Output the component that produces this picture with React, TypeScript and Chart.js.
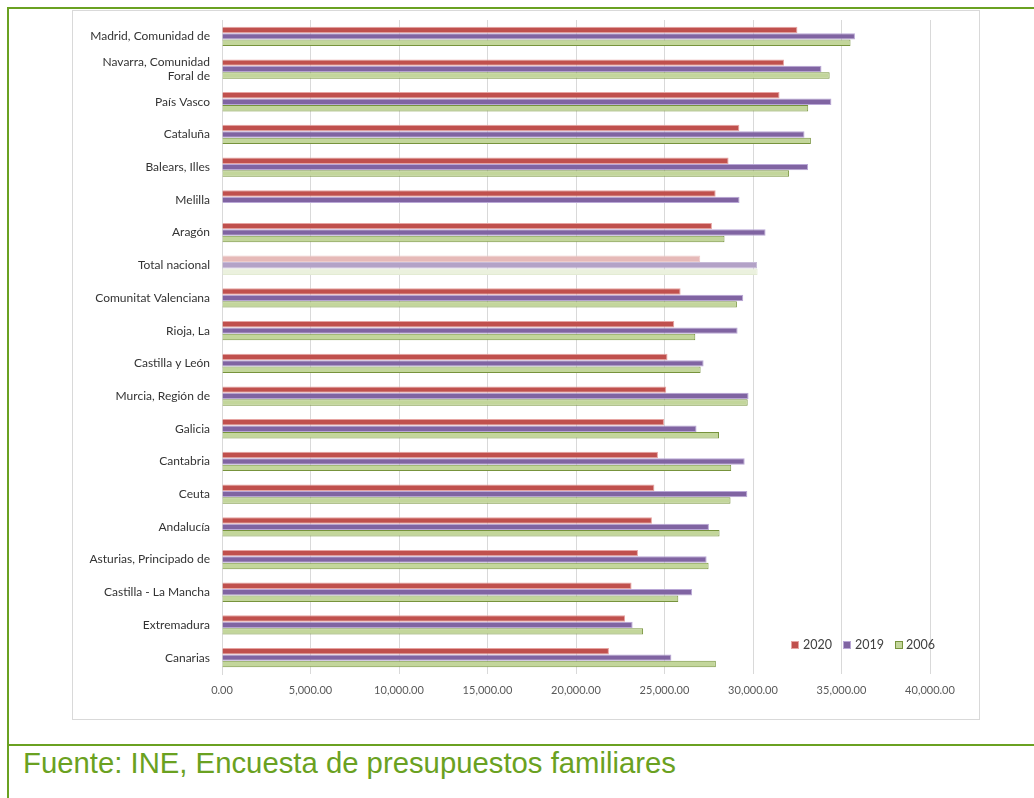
import React, { useEffect, useRef } from "react";
import { Chart, registerables } from "chart.js";

Chart.register(...registerables);

const categories: string[] = [
  "Madrid, Comunidad de",
  "Navarra, Comunidad Foral de",
  "País Vasco",
  "Cataluña",
  "Balears, Illes",
  "Melilla",
  "Aragón",
  "Total nacional",
  "Comunitat Valenciana",
  "Rioja, La",
  "Castilla y León",
  "Murcia, Región de",
  "Galicia",
  "Cantabria",
  "Ceuta",
  "Andalucía",
  "Asturias, Principado de",
  "Castilla - La Mancha",
  "Extremadura",
  "Canarias",
];

const values2020: (number | null)[] = [
  32510, 31750, 31500, 29230, 28620, 27890, 27680, 27020, 25910, 25550,
  25170, 25100, 24970, 24630, 24430, 24290, 23500, 23140, 22770, 21860,
];
const values2019: (number | null)[] = [
  35760, 33870, 34430, 32910, 33110, 29240, 30710, 30230, 29450, 29130,
  27210, 29750, 26810, 29530, 29680, 27510, 27380, 26560, 23200, 25390,
];
const values2006: (number | null)[] = [
  35510, 34330, 33120, 33270, 32040, null, 28390, 30260, 29090, 26740,
  27040, 29700, 28080, 28770, 28730, 28110, 27490, 25780, 23790, 27900,
];

const seriesNames = ["2020", "2019", "2006"];
const xTicksMax = 40000;
const xTicksStep = 5000;

const GREEN = "#6AA121";
const FONT = "Lato, 'Open Sans', sans-serif";

const labelFor = (c: string) =>
  c === "Navarra, Comunidad Foral de" ? ["Navarra, Comunidad", "Foral de"] : c;

const perIndex = (normal: string, highlight: string) =>
  categories.map((c) => (c === "Total nacional" ? highlight : normal));

export default function App() {
  const ref = useRef<HTMLCanvasElement | null>(null);

  useEffect(() => {
    if (!ref.current) return;
    const chart = new Chart(ref.current, {
      type: "bar",
      data: {
        labels: categories.map(labelFor),
        datasets: [
          {
            label: seriesNames[0],
            data: values2020,
            backgroundColor: perIndex("#C0504D", "#E6B9B8"),
            borderColor: perIndex("#E6A4A2", "#EDCBCA"),
            borderWidth: 1,
          },
          {
            label: seriesNames[1],
            data: values2019,
            backgroundColor: perIndex("#8064A2", "#B3A2C7"),
            borderColor: perIndex("#B9A7D6", "#C7BBD8"),
            borderWidth: 1,
          },
          {
            label: seriesNames[2],
            data: values2006,
            backgroundColor: perIndex("#C3D69B", "#EBF1DE"),
            borderColor: perIndex("#77933C", "#E3EBD3"),
            borderWidth: 1,
          },
        ],
      },
      options: {
        indexAxis: "y",
        responsive: false,
        animation: false,
        devicePixelRatio: 1,
        layout: { padding: { top: 9, right: 49, bottom: 0, left: 0 } },
        datasets: {
          bar: { categoryPercentage: 0.59, barPercentage: 1.0 },
        },
        plugins: {
          legend: { display: false },
          tooltip: { enabled: false },
        },
        scales: {
          x: {
            min: 0,
            max: xTicksMax,
            grid: { color: "#D9D9D9", drawTicks: false },
            border: { display: false },
            ticks: {
              stepSize: xTicksStep,
              padding: 10,
              color: "#595959",
              font: { family: FONT, size: 11 },
              callback: (v: any) =>
                Number(v).toLocaleString("en-US", {
                  minimumFractionDigits: 2,
                  maximumFractionDigits: 2,
                }),
            },
            afterFit: (s: any) => {
              s.height = 45;
              s.paddingLeft = 0;
              s.paddingRight = 0;
            },
          },
          y: {
            grid: { display: false, drawTicks: false },
            border: { display: true, color: "#D9D9D9" },
            ticks: {
              padding: 12,
              color: "#333333",
              font: { family: FONT, size: 12 },
              autoSkip: false,
            },
            afterFit: (s: any) => {
              s.width = 149;
              s.paddingTop = 0;
              s.paddingBottom = 0;
            },
          },
        },
      },
    } as any);
    return () => chart.destroy();
  }, []);

  const legendItems = [
    { name: seriesNames[0], fill: "#C0504D", border: "#E6A4A2", sx: 791, tx: 803 },
    { name: seriesNames[1], fill: "#8064A2", border: "#B9A7D6", sx: 843, tx: 855 },
    { name: seriesNames[2], fill: "#C3D69B", border: "#77933C", sx: 895, tx: 906 },
  ];

  return (
    <div
      style={{
        position: "absolute",
        left: 0,
        top: 0,
        width: 1034,
        height: 798,
        background: "#fff",
        overflow: "hidden",
      }}
    >
      <div style={{ position: "absolute", left: 7, top: 7, width: 1027, height: 2, background: GREEN }} />
      <div style={{ position: "absolute", left: 7, top: 7, width: 2, height: 791, background: GREEN }} />
      <div style={{ position: "absolute", left: 7, top: 744, width: 1027, height: 2, background: GREEN }} />
      <div
        style={{
          position: "absolute",
          left: 72,
          top: 10,
          width: 908,
          height: 710,
          border: "1px solid #D9D9D9",
          boxSizing: "border-box",
        }}
      />
      <canvas
        ref={ref}
        width={906}
        height={708}
        style={{ position: "absolute", left: 73, top: 11, width: 906, height: 708 }}
      />
      {legendItems.map((it) => (
        <React.Fragment key={it.name}>
          <div
            style={{
              position: "absolute",
              left: it.sx,
              top: 641,
              width: 8,
              height: 8,
              background: it.fill,
              border: `1px solid ${it.border}`,
              boxSizing: "border-box",
            }}
          />
          <div
            style={{
              position: "absolute",
              left: it.tx,
              top: 637,
              fontFamily: FONT,
              fontSize: 12.5,
              lineHeight: "16px",
              color: "#404040",
            }}
          >
            {it.name}
          </div>
        </React.Fragment>
      ))}
      <div
        style={{
          position: "absolute",
          left: 23,
          top: 748,
          fontFamily: "'Liberation Sans', Arial, sans-serif",
          fontSize: 29.3,
          lineHeight: "29px",
          color: GREEN,
          whiteSpace: "nowrap",
        }}
      >
        Fuente: INE, Encuesta de presupuestos familiares
      </div>
    </div>
  );
}
